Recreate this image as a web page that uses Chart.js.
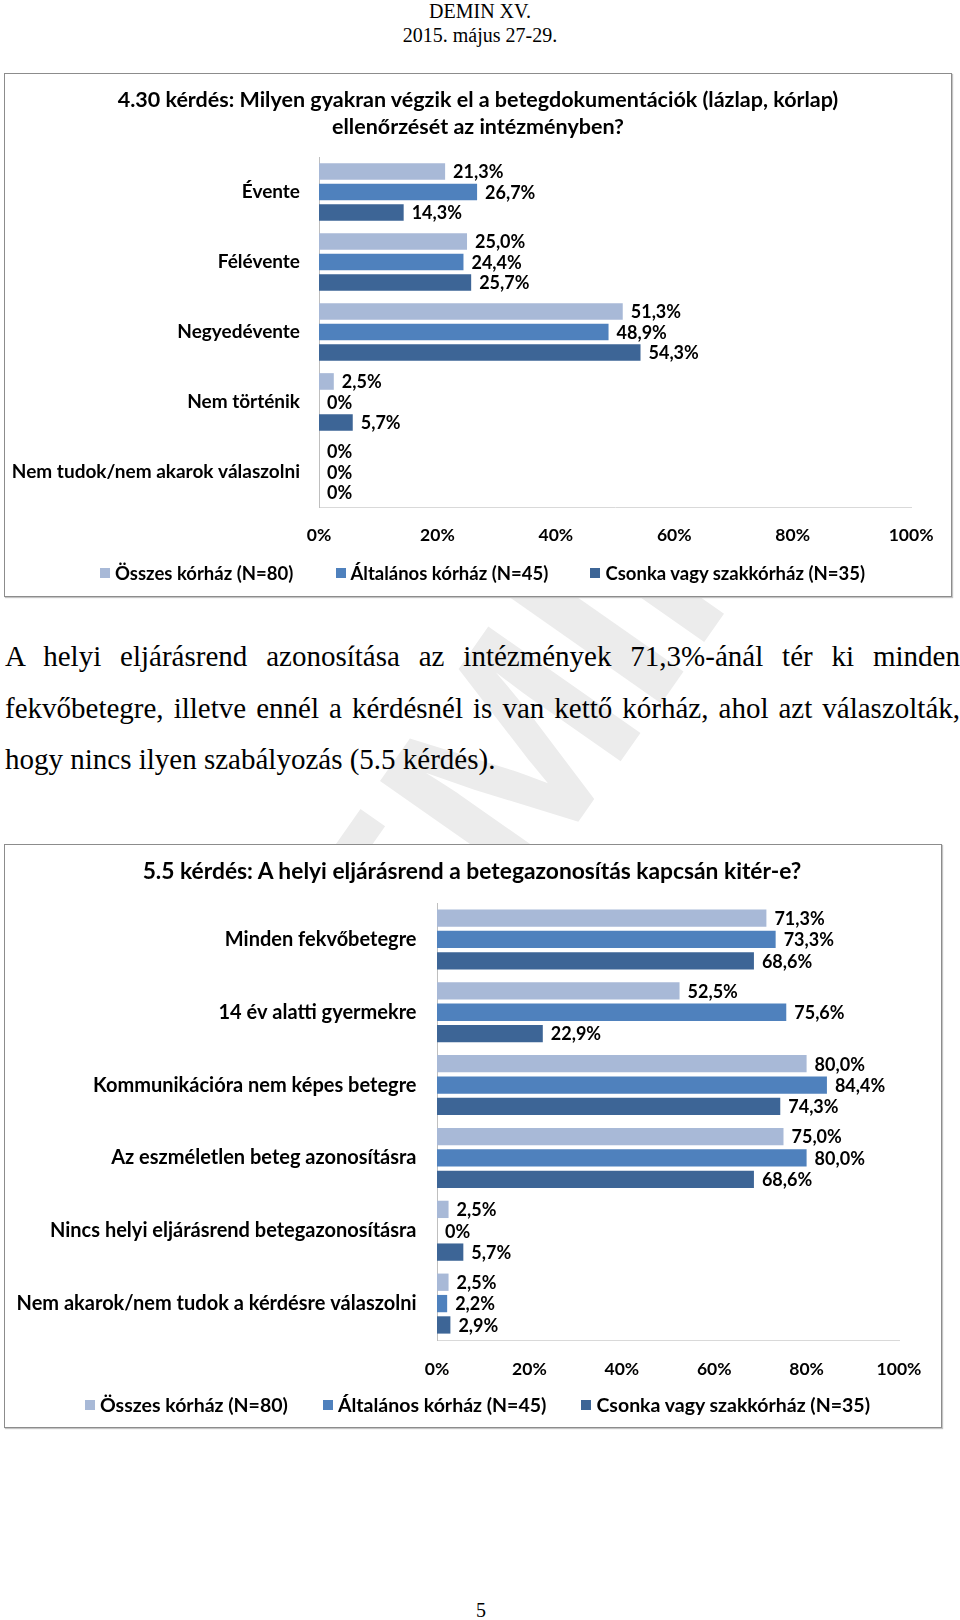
<!DOCTYPE html>
<html lang="hu">
<head>
<meta charset="utf-8">
<title>DEMIN XV.</title>
<script src="https://cdn.jsdelivr.net/npm/chart.js@4.4.1/dist/chart.umd.min.js"></script>
<style>
  html, body { margin: 0; padding: 0; background: #fff; }
  body { width: 960px; height: 1620px; position: relative; overflow: hidden; font-family: 'Liberation Serif', 'Times New Roman', serif; color: #000; }
  .vizjel { position: absolute; left: 480px; top: 800px; width: 0; height: 0; }
  .vizjel span { position: absolute; left: -560px; top: -150px; width: 1120px; text-align: center;
                 font-family: 'Liberation Sans', sans-serif; font-weight: bold; font-size: 270px; line-height: 300px;
                 color: #ececec; transform: rotate(-55deg); white-space: nowrap; }
  .fej { position: absolute; left: 0; width: 960px; text-align: center; font-size: 20px; line-height: 22px; }
  .doboz { position: absolute; left: 4px; border: 1px solid #8c8c8c; box-shadow: 1px 1px 1px #c4c4c4; background: #fff; }
  .doboz canvas { display: block; }
  .cim { position: absolute; left: 0; text-align: center; font-family: Lato, sans-serif; font-weight: bold; line-height: 27px; white-space: nowrap; }
  .sor { position: absolute; left: 5px; width: 955px; font-size: 29px; line-height: 51px; white-space: nowrap; }
  .sor.just { text-align: justify; text-align-last: justify; white-space: normal; }
  .oldalszam { position: absolute; left: 0; width: 962px; top: 1599px; text-align: center; font-size: 20px; line-height: 22px; }
  .jelmagyarazat { position: absolute; display: flex; justify-content: space-between; height: 20px;
                   font-family: Lato, sans-serif; font-weight: bold; line-height: 20px; white-space: nowrap; }
  .jel { display: flex; align-items: center; }
  .jel i { display: inline-block; width: 10px; height: 10px; margin-right: 5px; }
</style>
</head>
<body>

<div class="vizjel"><span>DEMIN</span></div>

<div class="fej" style="top:0px">DEMIN XV.</div>
<div class="fej" style="top:24px">2015. május 27-29.</div>

<div class="doboz" style="top:73px; width:946px; height:522px;">
  <canvas id="chart1" width="946" height="522"></canvas>
</div>
<div class="cim" style="top:86px; width:956px; font-size:21.5px;">4.30 kérdés: Milyen gyakran végzik el a betegdokumentációk (lázlap, kórlap)<br>ellenőrzését az intézményben?</div>
<div class="jelmagyarazat" id="jel1" style="left:100px; width:765px; top:563px; font-size:18.5px;"></div>

<div class="sor just" style="top:631px">A helyi eljárásrend azonosítása az intézmények 71,3%-ánál tér ki minden</div>
<div class="sor just" style="top:683px">fekvőbetegre, illetve ennél a kérdésnél is van kettő kórház, ahol azt válaszolták,</div>
<div class="sor" style="top:734px">hogy nincs ilyen szabályozás (5.5 kérdés).</div>

<div class="doboz" style="top:844px; width:936px; height:582px;">
  <canvas id="chart2" width="936" height="582"></canvas>
</div>
<div class="cim" style="top:857px; width:944px; font-size:22.8px;">5.5 kérdés: A helyi eljárásrend a betegazonosítás kapcsán kitér-e?</div>
<div class="jelmagyarazat" id="jel2" style="left:85px; width:785px; top:1395px; font-size:19.5px;"></div>

<div class="oldalszam">5</div>

<script>
/* adatok */

const sorozatNevek = ['Összes kórház (N=80)', 'Általános kórház (N=45)', 'Csonka vagy szakkórház (N=35)'];
const szinek = ['#a8b9d7', '#4f81bd', '#3d6596'];
const tengelyTickek = [0, 20, 40, 60, 80, 100];

// 4.30 kérdés
const kategoriak1 = ['Évente', 'Félévente', 'Negyedévente', 'Nem történik', 'Nem tudok/nem akarok válaszolni'];
const osszes1 = [21.3, 25.0, 51.3, 2.5, 0];
const altalanos1 = [26.7, 24.4, 48.9, 0, 0];
const csonka1 = [14.3, 25.7, 54.3, 5.7, 0];

// 5.5 kérdés
const kategoriak2 = ['Minden fekvőbetegre', '14 év alatti gyermekre', 'Kommunikációra nem képes betegre',
    'Az eszméletlen beteg azonosításra', 'Nincs helyi eljárásrend betegazonosításra',
    'Nem akarok/nem tudok a kérdésre válaszolni'];
const osszes2 = [71.3, 52.5, 80.0, 75.0, 2.5, 2.5];
const altalanos2 = [73.3, 75.6, 84.4, 80.0, 0, 2.2];
const csonka2 = [68.6, 22.9, 74.3, 68.6, 5.7, 2.9];

const betu = "Lato, 'Open Sans', sans-serif";
Chart.defaults.font.family = betu;
Chart.defaults.color = '#000';

// százalék címkék a sávok végén
const ertekCimkek = {
    id: 'ertekCimkek',
    afterDatasetsDraw(chart, args, opts) {
        const ctx = chart.ctx;
        ctx.save();
        ctx.font = opts.font;
        ctx.fillStyle = '#000';
        ctx.textAlign = 'left';
        ctx.textBaseline = 'middle';
        chart.data.datasets.forEach((ds, i) => {
            chart.getDatasetMeta(i).data.forEach((bar, j) => {
                const v = ds.data[j];
                const szoveg = v === 0 ? '0%' : v.toFixed(1).replace('.', ',') + '%';
                ctx.fillText(szoveg, bar.x + opts.eltolas, bar.y + 1);
            });
        });
        ctx.restore();
    }
};

function sorozatok(a, b, c) {
    return [a, b, c].map((adat, i) => ({
        label: sorozatNevek[i],
        data: adat,
        backgroundColor: szinek[i],
        borderWidth: 0,
        categoryPercentage: 0.88,
        barPercentage: 0.81
    }));
}

// jelmagyarázat html-ben, a grafikon adatsoraiból
function htmlJelmagyarazat(chart, elemId) {
    const hely = document.getElementById(elemId);
    chart.data.datasets.forEach(ds => {
        const tetel = document.createElement('span');
        tetel.className = 'jel';
        tetel.innerHTML = '<i style="background:' + ds.backgroundColor + '"></i>' + ds.label;
        hely.appendChild(tetel);
    });
}

/* 4.30 kérdés */

const chart1 = new Chart(document.getElementById('chart1'), {
    type: 'bar',
    data: {
        labels: kategoriak1,
        datasets: sorozatok(osszes1, altalanos1, csonka1)
    },
    options: {
        indexAxis: 'y',
        responsive: false,
        animation: false,
        layout: { padding: { left: 0, right: 38, top: 83, bottom: 3 } },
        plugins: {
            legend: { display: false },
            tooltip: { enabled: false },
            ertekCimkek: { font: 'bold 18px ' + betu, eltolas: 8 }
        },
        scales: {
            x: {
                min: 0,
                max: 100,
                afterBuildTicks: s => { s.ticks = tengelyTickek.map(v => ({ value: v })); },
                ticks: { padding: 17.5, font: { size: 17.5, weight: 'bold' }, callback: v => v + '%' },
                grid: { display: false, drawTicks: false },
                border: { color: '#d9d9d9' },
                afterFit: s => { s.height = 86; }
            },
            y: {
                ticks: { padding: 19, font: { size: 19, weight: 'bold' } },
                grid: { display: false, drawTicks: false },
                border: { color: '#bfbfbf' },
                afterFit: s => { s.width = 314; }
            }
        }
    },
    plugins: [ertekCimkek]
});
htmlJelmagyarazat(chart1, 'jel1');

/* 5.5 kérdés */

const chart2 = new Chart(document.getElementById('chart2'), {
    type: 'bar',
    data: {
        labels: kategoriak2,
        datasets: sorozatok(osszes2, altalanos2, csonka2)
    },
    options: {
        indexAxis: 'y',
        responsive: false,
        animation: false,
        layout: { padding: { left: 0, right: 42, top: 58, bottom: 2 } },
        plugins: {
            legend: { display: false },
            tooltip: { enabled: false },
            ertekCimkek: { font: 'bold 18px ' + betu, eltolas: 8 }
        },
        scales: {
            x: {
                min: 0,
                max: 100,
                afterBuildTicks: s => { s.ticks = tengelyTickek.map(v => ({ value: v })); },
                ticks: { padding: 18.5, font: { size: 17.5, weight: 'bold' }, callback: v => v + '%' },
                grid: { display: false, drawTicks: false },
                border: { color: '#d9d9d9' },
                afterFit: s => { s.height = 85; }
            },
            y: {
                ticks: { padding: 20.5, font: { size: 20, weight: 'bold' } },
                grid: { display: false, drawTicks: false },
                border: { color: '#bfbfbf' },
                afterFit: s => { s.width = 432; }
            }
        }
    },
    plugins: [ertekCimkek]
});
htmlJelmagyarazat(chart2, 'jel2');
</script>
</body>
</html>
